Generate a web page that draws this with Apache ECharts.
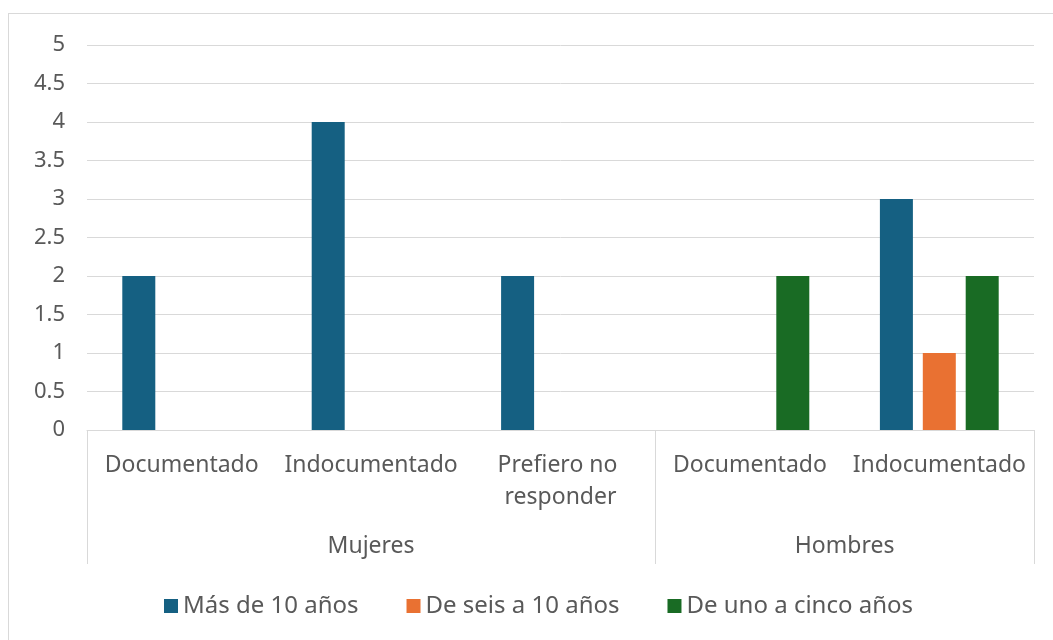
<!DOCTYPE html>
<html>
<head>
<meta charset="utf-8">
<script src="https://cdn.jsdelivr.net/npm/echarts@6/dist/echarts.min.js"></script>
<style>
  html, body { margin: 0; padding: 0; background: #fff; overflow: hidden; }
  #chart {
    position: absolute; left: 8px; top: 13px;
    width: 1052px; height: 642px;
    border: 1px solid #d9d9d9; box-sizing: border-box;
  }
</style>
</head>
<body>
<div id="chart"></div>
<script>
// categories (level 1) and their groups (level 2)
const categories = ['Documentado', 'Indocumentado', 'Prefiero no responder', 'Documentado', 'Indocumentado'];
const groups = ['Mujeres', 'Hombres'];
const groupSizes = [3, 2];

const seriesNames = ['Más de 10 años', 'De seis a 10 años', 'De uno a cinco años'];
const masDe10 = [2, 4, 2, null, 3];
const deSeisA10 = [null, null, null, null, 1];
const deUnoACinco = [null, null, null, 2, 2];

const yTicks = [0, 0.5, 1, 1.5, 2, 2.5, 3, 3.5, 4, 4.5, 5];

const colors = ['#156082', '#E97132', '#196B24'];
const textColor = '#595959';
const lineColor = '#d9d9d9';
const font = '"Noto Sans", sans-serif';

// group boundaries and centres on a 0..n scale
const bounds = [0];
const centres = [];
groupSizes.forEach(n => {
  const start = bounds[bounds.length - 1];
  centres.push(start + n / 2);
  bounds.push(start + n);
});

const chart = echarts.init(document.getElementById('chart'));

chart.setOption({
  animation: false,
  color: colors,
  textStyle: { fontFamily: font, color: textColor },
  grid: { left: 78, right: 25, top: 31, bottom: 224, containLabel: false },
  legend: {
    left: 150,
    bottom: 31,
    icon: 'rect',
    itemWidth: 14,
    itemHeight: 14,
    itemGap: 48,
    textStyle: { fontFamily: font, fontSize: 24, color: textColor },
    data: seriesNames
  },
  xAxis: [
    {
      type: 'category',
      data: categories,
      axisLine: { lineStyle: { color: lineColor, width: 1 } },
      axisTick: { show: false },
      axisLabel: {
        interval: 0,
        color: textColor,
        fontFamily: font,
        fontSize: 23,
        margin: 19,
        lineHeight: 32,
        width: 185,
        overflow: 'break'
      }
    },
    {
      type: 'value',
      position: 'bottom',
      min: 0,
      max: categories.length,
      axisLine: { show: false },
      splitLine: { show: false },
      axisTick: {
        show: true,
        customValues: bounds,
        length: 134,
        lineStyle: { color: lineColor, width: 1 }
      },
      axisLabel: {
        customValues: centres,
        margin: 105,
        color: textColor,
        fontFamily: font,
        fontSize: 23,
        formatter: v => groups[centres.indexOf(v)] || ''
      }
    }
  ],
  yAxis: {
    type: 'value',
    min: yTicks[0],
    max: yTicks[yTicks.length - 1],
    interval: 0.5,
    axisLine: { show: false },
    axisTick: { show: false },
    splitLine: { lineStyle: { color: lineColor, width: 1 } },
    axisLabel: { color: textColor, fontFamily: font, fontSize: 22, margin: 22 }
  },
  series: [
    { name: seriesNames[0], type: 'bar', data: masDe10, barWidth: 33, barGap: '30%' },
    { name: seriesNames[1], type: 'bar', data: deSeisA10, barWidth: 33, barGap: '30%' },
    { name: seriesNames[2], type: 'bar', data: deUnoACinco, barWidth: 33, barGap: '30%' }
  ]
});
</script>
</body>
</html>
